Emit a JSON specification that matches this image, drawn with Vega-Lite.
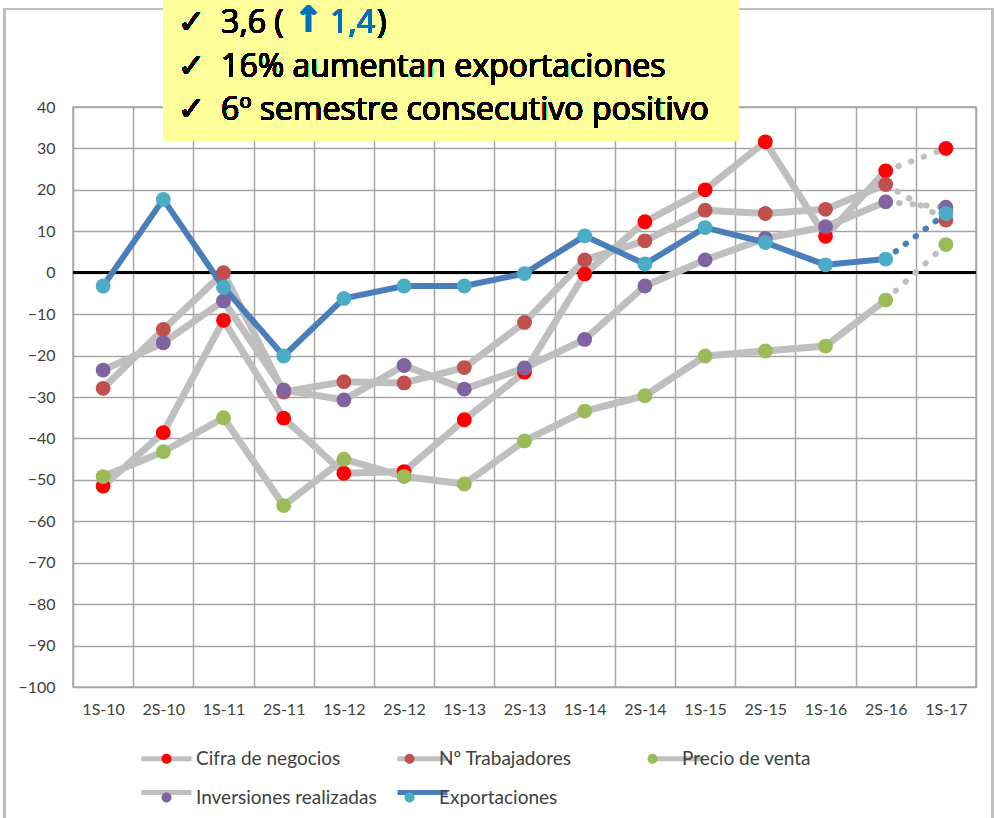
{
  "$schema": "https://vega.github.io/schema/vega-lite/v6.json",
  "autosize": "none",
  "width": 903,
  "height": 580,
  "padding": {"left": 73, "top": 107, "right": 18, "bottom": 131},
  "background": "white",
  "config": {
    "font": "Lato",
    "view": {"stroke": "#a6a6a6", "strokeWidth": 1.5},
    "axis": {"labelFont": "Lato", "labelFontSize": 16, "labelColor": "#404040", "title": null, "domain": false, "ticks": false, "tickSize": 0, "gridColor": "#a6a6a6", "gridWidth": 1.5, "gridOpacity": 1}
  },
  "data": {
    "values": [
      {"periodo": "1S-10", "serie": "Cifra de negocios", "valor": -51.5},
      {"periodo": "2S-10", "serie": "Cifra de negocios", "valor": -38.6},
      {"periodo": "1S-11", "serie": "Cifra de negocios", "valor": -11.5},
      {"periodo": "2S-11", "serie": "Cifra de negocios", "valor": -35.1},
      {"periodo": "1S-12", "serie": "Cifra de negocios", "valor": -48.4},
      {"periodo": "2S-12", "serie": "Cifra de negocios", "valor": -48.0},
      {"periodo": "1S-13", "serie": "Cifra de negocios", "valor": -35.5},
      {"periodo": "2S-13", "serie": "Cifra de negocios", "valor": -24.0},
      {"periodo": "1S-14", "serie": "Cifra de negocios", "valor": -0.3},
      {"periodo": "2S-14", "serie": "Cifra de negocios", "valor": 12.3},
      {"periodo": "1S-15", "serie": "Cifra de negocios", "valor": 20.0},
      {"periodo": "2S-15", "serie": "Cifra de negocios", "valor": 31.6},
      {"periodo": "1S-16", "serie": "Cifra de negocios", "valor": 8.8},
      {"periodo": "2S-16", "serie": "Cifra de negocios", "valor": 24.6},
      {"periodo": "1S-17", "serie": "Cifra de negocios", "valor": 30.0},
      {"periodo": "1S-10", "serie": "Nº Trabajadores", "valor": -27.9},
      {"periodo": "2S-10", "serie": "Nº Trabajadores", "valor": -13.7},
      {"periodo": "1S-11", "serie": "Nº Trabajadores", "valor": 0.0},
      {"periodo": "2S-11", "serie": "Nº Trabajadores", "valor": -28.8},
      {"periodo": "1S-12", "serie": "Nº Trabajadores", "valor": -26.3},
      {"periodo": "2S-12", "serie": "Nº Trabajadores", "valor": -26.6},
      {"periodo": "1S-13", "serie": "Nº Trabajadores", "valor": -22.9},
      {"periodo": "2S-13", "serie": "Nº Trabajadores", "valor": -12.0},
      {"periodo": "1S-14", "serie": "Nº Trabajadores", "valor": 3.1},
      {"periodo": "2S-14", "serie": "Nº Trabajadores", "valor": 7.7},
      {"periodo": "1S-15", "serie": "Nº Trabajadores", "valor": 15.1},
      {"periodo": "2S-15", "serie": "Nº Trabajadores", "valor": 14.3},
      {"periodo": "1S-16", "serie": "Nº Trabajadores", "valor": 15.3},
      {"periodo": "2S-16", "serie": "Nº Trabajadores", "valor": 21.3},
      {"periodo": "1S-17", "serie": "Nº Trabajadores", "valor": 12.7},
      {"periodo": "1S-10", "serie": "Precio de venta", "valor": -49.2},
      {"periodo": "2S-10", "serie": "Precio de venta", "valor": -43.2},
      {"periodo": "1S-11", "serie": "Precio de venta", "valor": -35.0},
      {"periodo": "2S-11", "serie": "Precio de venta", "valor": -56.2},
      {"periodo": "1S-12", "serie": "Precio de venta", "valor": -45.0},
      {"periodo": "2S-12", "serie": "Precio de venta", "valor": -49.2},
      {"periodo": "1S-13", "serie": "Precio de venta", "valor": -51.0},
      {"periodo": "2S-13", "serie": "Precio de venta", "valor": -40.6},
      {"periodo": "1S-14", "serie": "Precio de venta", "valor": -33.4},
      {"periodo": "2S-14", "serie": "Precio de venta", "valor": -29.7},
      {"periodo": "1S-15", "serie": "Precio de venta", "valor": -20.1},
      {"periodo": "2S-15", "serie": "Precio de venta", "valor": -18.9},
      {"periodo": "1S-16", "serie": "Precio de venta", "valor": -17.7},
      {"periodo": "2S-16", "serie": "Precio de venta", "valor": -6.6},
      {"periodo": "1S-17", "serie": "Precio de venta", "valor": 6.8},
      {"periodo": "1S-10", "serie": "Inversiones realizadas", "valor": -23.5},
      {"periodo": "2S-10", "serie": "Inversiones realizadas", "valor": -16.9},
      {"periodo": "1S-11", "serie": "Inversiones realizadas", "valor": -6.8},
      {"periodo": "2S-11", "serie": "Inversiones realizadas", "valor": -28.3},
      {"periodo": "1S-12", "serie": "Inversiones realizadas", "valor": -30.7},
      {"periodo": "2S-12", "serie": "Inversiones realizadas", "valor": -22.4},
      {"periodo": "1S-13", "serie": "Inversiones realizadas", "valor": -28.1},
      {"periodo": "2S-13", "serie": "Inversiones realizadas", "valor": -23.0},
      {"periodo": "1S-14", "serie": "Inversiones realizadas", "valor": -16.1},
      {"periodo": "2S-14", "serie": "Inversiones realizadas", "valor": -3.2},
      {"periodo": "1S-15", "serie": "Inversiones realizadas", "valor": 3.1},
      {"periodo": "2S-15", "serie": "Inversiones realizadas", "valor": 8.3},
      {"periodo": "1S-16", "serie": "Inversiones realizadas", "valor": 11.1},
      {"periodo": "2S-16", "serie": "Inversiones realizadas", "valor": 17.1},
      {"periodo": "1S-17", "serie": "Inversiones realizadas", "valor": 15.8},
      {"periodo": "1S-10", "serie": "Exportaciones", "valor": -3.2},
      {"periodo": "2S-10", "serie": "Exportaciones", "valor": 17.7},
      {"periodo": "1S-11", "serie": "Exportaciones", "valor": -3.5},
      {"periodo": "2S-11", "serie": "Exportaciones", "valor": -20.1},
      {"periodo": "1S-12", "serie": "Exportaciones", "valor": -6.2},
      {"periodo": "2S-12", "serie": "Exportaciones", "valor": -3.2},
      {"periodo": "1S-13", "serie": "Exportaciones", "valor": -3.2},
      {"periodo": "2S-13", "serie": "Exportaciones", "valor": -0.2},
      {"periodo": "1S-14", "serie": "Exportaciones", "valor": 8.9},
      {"periodo": "2S-14", "serie": "Exportaciones", "valor": 2.1},
      {"periodo": "1S-15", "serie": "Exportaciones", "valor": 10.9},
      {"periodo": "2S-15", "serie": "Exportaciones", "valor": 7.3},
      {"periodo": "1S-16", "serie": "Exportaciones", "valor": 1.9},
      {"periodo": "2S-16", "serie": "Exportaciones", "valor": 3.3},
      {"periodo": "1S-17", "serie": "Exportaciones", "valor": 14.3}
    ]
  },
  "resolve": {"scale": {"x": "independent"}},
  "layer": [
    {
      "encoding": {
        "x": {"field": "periodo", "type": "ordinal",
          "scale": {"type": "band", "paddingInner": 0, "paddingOuter": 0, "domain": ["1S-10","2S-10","1S-11","2S-11","1S-12","2S-12","1S-13","2S-13","1S-14","2S-14","1S-15","2S-15","1S-16","2S-16","1S-17"]},
          "axis": {"grid": true, "tickBand": "extent", "labelAngle": 0, "labelPadding": 14}},
        "y": {"field": "valor", "type": "quantitative",
          "scale": {"domain": [-100, 40], "nice": false, "zero": false},
          "axis": {"grid": true, "values": [-100,-90,-80,-70,-60,-50,-40,-30,-20,-10,0,10,20,30,40], "labelPadding": 18}}
      },
      "layer": [
        {"mark": {"type": "rule", "color": "black", "strokeWidth": 2.5}, "encoding": {"y": {"datum": 0, "type": "quantitative"}, "x": null}},
        {
          "transform": [{"filter": "datum.serie != 'Exportaciones' && datum.periodo != '1S-17'"}],
          "mark": {"type": "line", "strokeWidth": 7, "strokeJoin": "round", "strokeCap": "round"},
          "encoding": {
            "stroke": {"field": "serie", "type": "nominal",
              "scale": {"domain": ["Cifra de negocios","Nº Trabajadores","Precio de venta","Inversiones realizadas","Exportaciones"], "range": ["#bfbfbf","#bfbfbf","#bfbfbf","#bfbfbf","#4a7ebb"]},
              "legend": {"orient": "none", "legendX": 71, "legendY": 629, "direction": "horizontal", "columns": 3, "gridAlign": "all", "columnPadding": 10, "rowPadding": 1, "title": null,
                "symbolType": "M-1.25,0H1.25", "symbolSize": 1600, "symbolStrokeWidth": 5, "symbolOpacity": 1,
                "labelFont": "Lato", "labelFontSize": 19, "labelOffset": 7, "labelLimit": 400, "labelOpacity": 0, "padding": 0, "offset": 0}}
          }
        },
        {
          "transform": [{"filter": "datum.serie == 'Exportaciones' && datum.periodo != '1S-17'"}],
          "mark": {"type": "line", "strokeWidth": 6, "strokeJoin": "round", "strokeCap": "round"},
          "encoding": {"stroke": {"field": "serie", "type": "nominal"}}
        },
        {
          "transform": [{"filter": "datum.serie != 'Exportaciones' && (datum.periodo == '2S-16' || datum.periodo == '1S-17')"}],
          "mark": {"type": "line", "color": "#bfbfbf", "strokeWidth": 6, "strokeDash": [0.5, 13], "strokeCap": "round"},
          "encoding": {"detail": {"field": "serie"}}
        },
        {
          "transform": [{"filter": "datum.serie == 'Exportaciones' && (datum.periodo == '2S-16' || datum.periodo == '1S-17')"}],
          "mark": {"type": "line", "color": "#4a7ebb", "strokeWidth": 6, "strokeDash": [0.5, 12], "strokeCap": "round"},
          "encoding": {}
        },
        {
          "mark": {"type": "point", "filled": true, "size": 220, "opacity": 1, "strokeWidth": 0},
          "encoding": {
            "fill": {"field": "serie", "type": "nominal",
              "sort": ["Cifra de negocios","Nº Trabajadores","Precio de venta","Inversiones realizadas","Exportaciones"],
              "scale": {"range": ["#ff0000","#c0504d","#9bbb59","#8064a2","#4bacc6"]},
              "legend": {"orient": "none", "legendX": 71, "legendY": 629, "direction": "horizontal", "columns": 3, "gridAlign": "all", "columnPadding": 10, "rowPadding": 1, "title": null,
                "symbolType": "M-0.25,0A0.25,0.25,0,1,1,0.25,0A0.25,0.25,0,1,1,-0.25,0Z", "symbolSize": 1600, "symbolStrokeWidth": 5, "symbolStrokeColor": "transparent", "symbolOpacity": 1,
                "labelFont": "Lato", "labelFontSize": 19, "labelOffset": 7, "labelLimit": 400, "labelColor": "#404040", "padding": 0, "offset": 0}}
          }
        }
      ]
    },
    {
      "layer": [
        {
          "mark": {"type": "rect", "filled": false, "stroke": "#bfbfbf", "strokeWidth": 2},
          "encoding": {
            "x": {"datum": -1.13, "type": "quantitative", "scale": {"domain": [0, 15], "nice": false, "zero": false}, "axis": null},
            "x2": {"datum": 15.27},
            "y": {"datum": 63.65, "type": "quantitative", "scale": {"domain": [-100, 40], "nice": false, "zero": false}},
            "y2": {"datum": -135}
          }
        },
        {
          "mark": {"type": "rect", "color": "#ffff99", "opacity": 1},
          "encoding": {
            "x": {"datum": 1.5, "type": "quantitative", "scale": {"domain": [0, 15], "nice": false, "zero": false}, "axis": null},
            "x2": {"datum": 11.05},
            "y": {"datum": 65.9, "type": "quantitative", "scale": {"domain": [-100, 40], "nice": false, "zero": false}},
            "y2": {"datum": 31.8}
          }
        },
        {
          "mark": {"type": "text", "text": ["✓", "✓", "✓"], "font": "DejaVu Sans", "fontSize": 33, "align": "left", "baseline": "alphabetic", "lineHeight": 43.5, "color": "black"},
          "encoding": {
            "x": {"datum": 1.74, "type": "quantitative", "scale": {"domain": [0, 15], "nice": false, "zero": false}, "axis": null},
            "y": {"datum": 57.86, "type": "quantitative", "scale": {"domain": [-100, 40], "nice": false, "zero": false}}
          }
        },
        {
          "mark": {"type": "text", "text": ["3,6 (", "16% aumentan exportaciones", "6º semestre consecutivo positivo"], "font": "Open Sans", "fontSize": 32, "align": "left", "baseline": "alphabetic", "lineHeight": 43.5, "color": "black"},
          "encoding": {
            "x": {"datum": 2.46, "type": "quantitative", "scale": {"domain": [0, 15], "nice": false, "zero": false}, "axis": null},
            "y": {"datum": 57.86, "type": "quantitative", "scale": {"domain": [-100, 40], "nice": false, "zero": false}}
          }
        },
        {
          "mark": {"type": "text", "text": "↑", "font": "DejaVu Sans", "fontWeight": "bold", "fontSize": 36, "align": "left", "baseline": "alphabetic", "color": "#0070c0"},
          "encoding": {
            "x": {"datum": 3.66, "type": "quantitative", "scale": {"domain": [0, 15], "nice": false, "zero": false}, "axis": null},
            "y": {"datum": 58.2, "type": "quantitative", "scale": {"domain": [-100, 40], "nice": false, "zero": false}}
          }
        },
        {
          "mark": {"type": "text", "text": "1,4", "font": "Open Sans", "fontSize": 32, "align": "left", "baseline": "alphabetic", "color": "#0070c0"},
          "encoding": {
            "x": {"datum": 4.27, "type": "quantitative", "scale": {"domain": [0, 15], "nice": false, "zero": false}, "axis": null},
            "y": {"datum": 57.86, "type": "quantitative", "scale": {"domain": [-100, 40], "nice": false, "zero": false}}
          }
        },
        {
          "mark": {"type": "text", "text": ")", "font": "Open Sans", "fontSize": 32, "align": "left", "baseline": "alphabetic", "color": "black"},
          "encoding": {
            "x": {"datum": 5.05, "type": "quantitative", "scale": {"domain": [0, 15], "nice": false, "zero": false}, "axis": null},
            "y": {"datum": 57.86, "type": "quantitative", "scale": {"domain": [-100, 40], "nice": false, "zero": false}}
          }
        }
      ]
    }
  ]
}
